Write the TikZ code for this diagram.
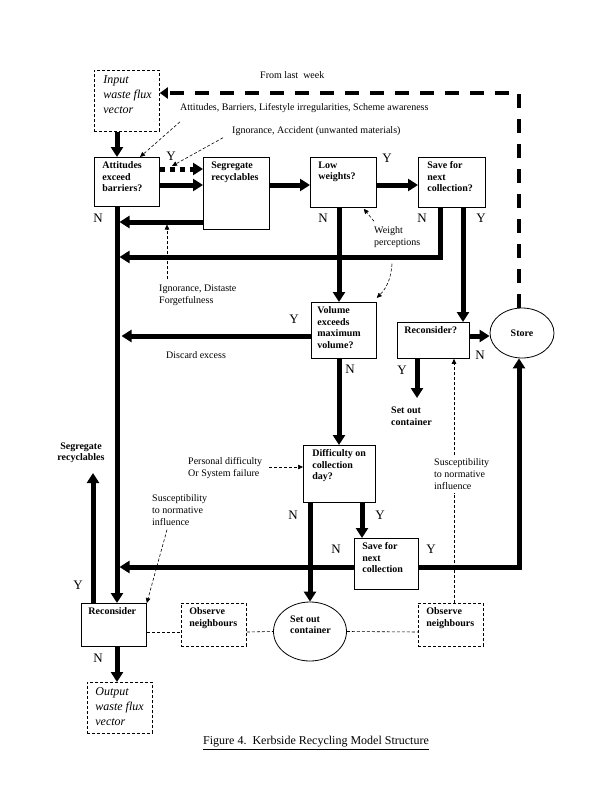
\documentclass[tikz,border=0pt]{standalone}
\usepackage{fontspec}
\setmainfont{Liberation Serif}
\usetikzlibrary{arrows.meta,shapes.geometric,calc}
\newcommand\bxt[4]{\parbox[c][#2pt][t]{#1pt}{\raggedright\leftskip=#3pt\relax\vspace*{4.5pt}#4}}
\newcommand\ixt[4]{\parbox[c][#2pt][t]{#1pt}{\raggedright\leftskip=#3pt\relax\vspace*{5pt}#4}}
\tikzset{
  thk/.style={line width=5pt, -{Triangle[length=10pt,width=12pt]}},
  thkdash/.style={line width=4.5pt, dash pattern=on 14pt off 11pt, -{Triangle[length=8pt,width=11pt]}},
  thkdot/.style={line width=5pt, dash pattern=on 5pt off 5pt, -{Triangle[length=10pt,width=12pt]}},
  darr/.style={line width=0.6pt, dash pattern=on 3pt off 2pt, -{Triangle[length=5pt,width=4.5pt]}},
  dline/.style={line width=0.6pt, dash pattern=on 3pt off 2pt},
  bx/.style={draw, line width=0.8pt, inner sep=0pt, anchor=north west, font=\bfseries\fontsize{10}{11.5}\selectfont},
  dbx/.style={bx, dash pattern=on 3pt off 2pt},
  ibx/.style={draw, line width=0.8pt, dash pattern=on 3pt off 2pt, inner sep=0pt, anchor=north west, font=\itshape\fontsize{12}{15}\selectfont},
  ell/.style={ellipse, draw, line width=0.8pt, inner sep=0pt},
  yn/.style={font=\fontsize{13}{13}\selectfont, inner sep=0pt},
  lbl/.style={font=\fontsize{10}{12}\selectfont, inner sep=0pt, align=left, anchor=west},
  blbl/.style={font=\bfseries\fontsize{10}{11.5}\selectfont, inner sep=0pt, align=left, anchor=west},
  captxt/.style={font=\fontsize{12}{14}\selectfont, inner sep=0pt},
}
\begin{document}
\begin{tikzpicture}[x=1pt,y=-1pt]
\useasboundingbox (0,0) rectangle (612,792);
\fill[white] (0,0) rectangle (612,792);

% helper coordinates
\coordinate (xm) at (117,0);
\coordinate (xme) at (119.5,0);
\coordinate (xl) at (339,0);
\coordinate (xsn) at (440,0);
\coordinate (xsy) at (463,0);
\coordinate (xry) at (417,0);
\coordinate (xdn) at (310,0);
\coordinate (xdy) at (362,0);
\coordinate (xst) at (519,0);
\coordinate (xy) at (93,0);
\coordinate (xd) at (454,0);
\coordinate (xig) at (167,0);
\coordinate (rtop) at (0,93);
\coordinate (r1) at (0,169);
\coordinate (r2) at (0,185);
\coordinate (r4) at (0,222);
\coordinate (r3) at (0,257);
\coordinate (r5) at (0,336);
\coordinate (r6) at (0,567);
\coordinate (r7) at (0,632);
\coordinate (setend) at (417,398);
\coordinate (segend) at (93,473);
\coordinate (ydot) at (172,166);

% boxes
\node[ibx] (inbox) at (94,70) {\ixt{65}{61}{9}{Input\\waste flux\\vector}};
\node[bx] (att) at (94,157) {\bxt{65}{49}{8}{Attitudes\\exceed\\barriers?}};
\node[bx] (seg) at (203,157) {\bxt{66}{72}{8}{Segregate\\recyclables}};
\node[bx] (low) at (310,157) {\bxt{66}{50}{8}{Low\\weights?}};
\node[bx] (save) at (418,157) {\bxt{67}{50}{9}{Save for\\next\\collection?}};
\node[bx] (vol) at (311,302) {\bxt{65}{56}{6}{Volume\\exceeds\\maximum\\volume?}};
\node[bx] (recq) at (397,322) {\bxt{72}{36}{7}{Reconsider?}};
\node[ell, minimum width=64pt, minimum height=50pt, font=\bfseries\fontsize{10}{11}\selectfont] (store) at (522,333) {Store};
\node[bx] (diff) at (303,445) {\bxt{72}{57}{9}{Difficulty on\\collection\\day?}};
\node[bx] (save2) at (354,538) {\bxt{64}{51}{8}{Save for\\next\\collection}};
\node[bx] (rec) at (81,603) {\bxt{65}{43}{7}{Reconsider}};
\node[dbx] (obs1) at (181,603) {\bxt{65}{43}{8}{Observe\\neighbours}};
\node[dbx] (obs2) at (418,603) {\bxt{65}{43}{8}{Observe\\neighbours}};
\node[ell, minimum width=73pt, minimum height=59pt] (setout) at (310,631.5) {};
\node[blbl] (sot) at (290,624.5) {Set out\\container};
\node[ibx] (outbox) at (87,682) {\ixt{65}{51}{8}{Output\\waste flux\\vector}};

% free texts
\node[lbl] (t0) at (260,75) {From last~ week};
\node[lbl] (t1) at (180,108) {Attitudes, Barriers, Lifestyle irregularities, Scheme awareness};
\node[lbl] (t2) at (232,131) {Ignorance, Accident (unwanted materials)};
\node[lbl] (ig) at (159,295) {Ignorance, Distaste\\Forgetfulness};
\node[lbl] (wp) at (374,237) {Weight\\perceptions};
\node[lbl] (de) at (166,355) {Discard excess};
\node[blbl] (so1) at (391,416) {Set out\\container};
\node[lbl] (pd) at (188,468) {Personal difficulty\\Or System failure};
\node[lbl] (sus1) at (152,510) {Susceptibility\\to normative\\influence};
\node[lbl] (sus2) at (434,474) {Susceptibility\\to normative\\influence};
\node[blbl, align=center, anchor=center] (segt) at (81,453) {Segregate\\recyclables};
\node[captxt] (cap) at (316,743) {\underline{Figure 4.~~Kerbside Recycling Model Structure}};

% Y / N labels
\node[yn] (yA) at (171,156) {Y};
\node[yn] (nA) at (98,218) {N};
\node[yn] (nL) at (323,218) {N};
\node[yn] (yL) at (387,158) {Y};
\node[yn] (nS) at (422,218) {N};
\node[yn] (yS) at (481,218) {Y};
\node[yn] (yV) at (294,319) {Y};
\node[yn] (nV) at (350,369) {N};
\node[yn] (yR) at (402,370) {Y};
\node[yn] (nR) at (480,355) {N};
\node[yn] (nD) at (293,515) {N};
\node[yn] (yD) at (380,515) {Y};
\node[yn] (nS2) at (336,549) {N};
\node[yn] (yS2) at (431,549) {Y};
\node[yn] (yRec) at (78,585) {Y};
\node[yn] (nRec) at (98,658) {N};

% thick connectors
\draw[thk] (inbox.south -| xm) -- (att.north -| xm);
\draw[thkdot] (att.east |- r1) -- (seg.west |- r1);
\draw[thk] (att.east |- r2) -- (seg.west |- r2);
\draw[thk] (seg.east |- r2) -- (low.west |- r2);
\draw[thk] (low.east |- r2) -- (save.west |- r2);
\draw[thk] (low.south -| xl) -- (vol.north -| xl);
\draw[thk] (save.south -| xsn) |- (xme |- r3);
\draw[thk] (seg.west |- r4) -- (xme |- r4);
\draw[thk] (save.south -| xsy) -- (recq.north -| xsy);
\draw[thk] (att.south -| xm) -- (rec.north -| xm);
\draw[thk] (vol.west |- r5) -- ($(xme |- r5)+(2,0)$);
\draw[thk] (recq.east |- r5) -- (store.west |- r5);
\draw[thk] (recq.south -| xry) -- (setend);
\draw[thk] (vol.south -| xl) -- (diff.north -| xl);
\draw[thk] (diff.south -| xdn) -- (setout.north);
\draw[thk] (diff.south -| xdy) -- (save2.north -| xdy);
\draw[thk] (save2.west |- r6) -- (xme |- r6);
\draw[thk] (save2.east |- r6) -| (xst |- store.south);
\draw[thk] (rec.north -| xy) -- (segend);
\draw[thk] (rec.south -| xm) -- (outbox.north -| xm);
\draw[thkdash] (xst |- store.north) |- (inbox.east |- rtop);

% thin dashed connectors
\draw[darr] ($(t1.south west)+(0,9)$) -- ($(att.north west)+(46,0)$);
\draw[darr] ($(t2.south west)+(-9,2)$) -- (ydot);
\draw[darr] ($(xig |- ig.north)+(0,-5)$) -- ($(xig |- r4)+(0,2.5)$);
\draw[darr] ($(wp.north west)+(0,-5)$) -- ($(low.south east)+(-13,1)$);
\draw[darr] ($(wp.south west)+(18,16)$) to[bend left=20] ($(vol.north east)+(0,-4)$);
\draw[darr] ($(pd.east)+(7,-1)$) -- ($(diff.west |- pd.east)+(0,-1)$);
\draw[darr] ($(sus1.south west)+(15,4)$) -- (rec.north east);
\draw[dline] (obs2.north -| xd) -- ($(xd |- sus2.south)+(0,3)$);
\draw[darr] ($(xd |- sus2.north)+(0,-3)$) -- (recq.south -| xd);
\draw[dline] (rec.east |- r7) -- (obs1.west |- r7);
\draw[dline] (obs1.east |- r7) -- (setout.west);
\draw[dline] (setout.east) -- (obs2.west |- r7);
\end{tikzpicture}
\end{document}
